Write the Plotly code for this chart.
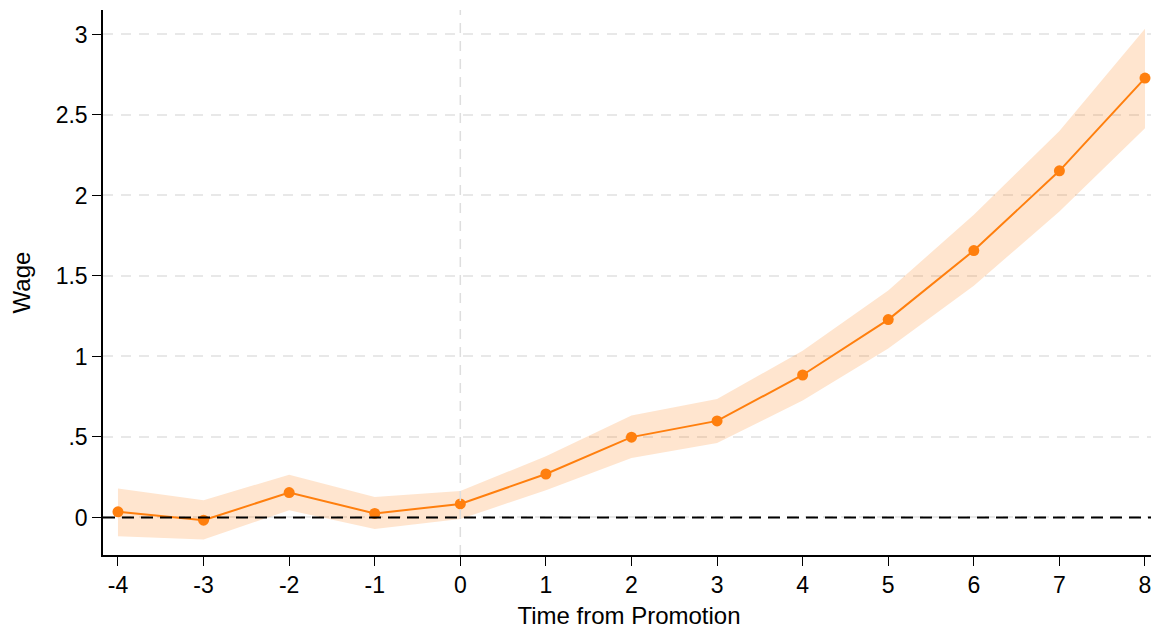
import plotly.graph_objects as go

periods = [-4, -3, -2, -1, 0, 1, 2, 3, 4, 5, 6, 7, 8]
period_labels = ["-4", "-3", "-2", "-1", "0", "1", "2", "3", "4", "5", "6", "7", "8"]
wage = [0.035, -0.017, 0.155, 0.025, 0.084, 0.27, 0.499, 0.60, 0.885, 1.229, 1.658, 2.153, 2.729]
ci_upper = [0.18, 0.107, 0.266, 0.128, 0.165, 0.38, 0.633, 0.736, 1.036, 1.41, 1.88, 2.40, 3.036]
ci_lower = [-0.116, -0.136, 0.045, -0.072, -0.01, 0.169, 0.369, 0.462, 0.726, 1.05, 1.44, 1.90, 2.417]
y_ticks = [0, 0.5, 1, 1.5, 2, 2.5, 3]
y_tick_labels = ["0", ".5", "1", "1.5", "2", "2.5", "3"]

orange = "#ff7f0e"
band = "rgba(255,127,14,0.2)"
font = "Liberation Sans, Arial, sans-serif"

fig = go.Figure()
fig.add_trace(go.Scatter(x=periods, y=ci_upper, mode="lines", line=dict(width=0),
                         hoverinfo="skip", showlegend=False))
fig.add_trace(go.Scatter(x=periods, y=ci_lower, mode="lines", line=dict(width=0),
                         fill="tonexty", fillcolor=band, hoverinfo="skip", showlegend=False))
fig.add_hline(y=0, line=dict(color="black", width=2.2, dash="12px,7px"))
fig.add_vline(x=0, line=dict(color="#dedede", width=1.5, dash="10px,8px"))
fig.add_trace(go.Scatter(x=periods, y=wage, mode="lines+markers",
                         line=dict(color=orange, width=2),
                         marker=dict(color=orange, size=11), showlegend=False))

fig.update_layout(
    width=1151, height=624,
    margin=dict(l=95, r=4, t=2, b=77),
    plot_bgcolor="white", paper_bgcolor="white",
    font=dict(family=font, size=23, color="black"),
    xaxis=dict(range=[-4.175, 8.117], tickmode="array", tickvals=periods,
               ticktext=period_labels,
               ticks="outside", ticklen=9, tickcolor="black", showline=True,
               linecolor="black", linewidth=1.5, showgrid=False, zeroline=False,
               title=dict(text="Time from Promotion", font=dict(size=24), standoff=10),
               tickfont=dict(size=23)),
    yaxis=dict(range=[-0.233, 3.152], tickmode="array", tickvals=y_ticks,
               ticktext=y_tick_labels, ticks="outside", ticklen=9, tickcolor="black",
               showline=True, linecolor="black", linewidth=1.5,
               showgrid=True, gridcolor="#e8e8e8", griddash="10px,8px", gridwidth=1.5,
               zeroline=False,
               title=dict(text="Wage", font=dict(size=24), standoff=18),
               tickfont=dict(size=23)),
)

fig.write_html("out.html")
